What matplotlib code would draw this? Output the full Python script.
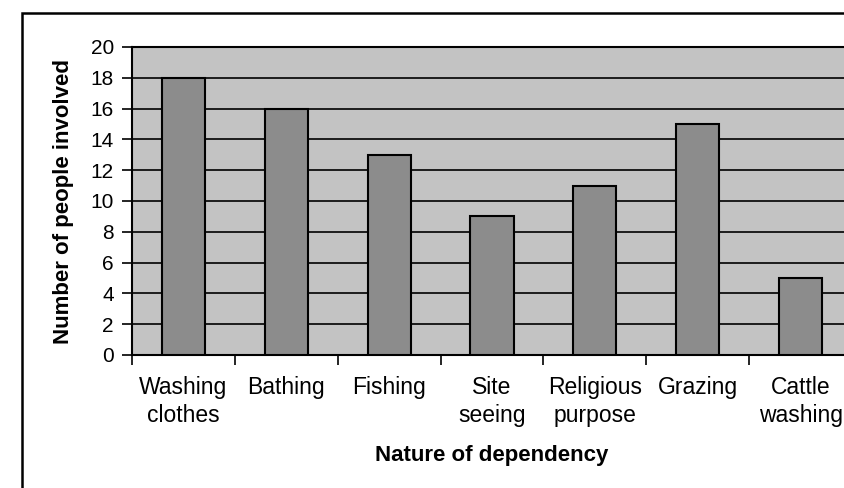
import matplotlib
matplotlib.use("Agg")
import matplotlib.pyplot as plt
from matplotlib.patches import Rectangle
import numpy as np

categories = ["Washing\nclothes", "Bathing", "Fishing", "Site\nseeing",
              "Religious\npurpose", "Grazing", "Cattle\nwashing"]
values = [18, 16, 13, 9, 11, 15, 5]
yticks = [0, 2, 4, 6, 8, 10, 12, 14, 16, 18, 20]

plt.rcParams['font.family'] = ['Liberation Sans', 'DejaVu Sans']

W, H = 844, 488
fig = plt.figure(figsize=(W / 100, H / 100), dpi=100)
fig.patch.set_facecolor('white')

# outer chart border (extends beyond the cropped canvas)
top_frac = 1 - 12.5 / H
fig.patches.append(Rectangle((22 / W, -0.2), 1.2, top_frac + 0.2,
                             transform=fig.transFigure, fill=False,
                             edgecolor='black', linewidth=1.8))

left, right_px, top, bottom = 132, 852, 47, 355
ax = fig.add_axes([left / W, (H - bottom) / H, (right_px - left) / W, (bottom - top) / H])
ax.set_facecolor('#c3c3c3')

x = np.arange(len(categories))
ax.bar(x, values, width=0.42, color='#8c8c8c', edgecolor='black', linewidth=1.5, zorder=3)

ax.set_xlim(-0.5, len(categories) - 0.5)
ax.set_ylim(0, 20)
ax.set_yticks(yticks)
ax.set_yticklabels([str(v) for v in yticks], fontsize=15)
ax.yaxis.grid(True, color='black', linewidth=1.2)
ax.set_axisbelow(True)

ax.set_xticks(x)
ax.set_xticklabels(categories, fontsize=16.5, linespacing=1.3, va='top')
ax.set_xticks(np.arange(len(categories) + 1) - 0.5, minor=True)
ax.tick_params(axis='x', which='major', length=0, pad=15)
ax.tick_params(axis='x', which='minor', length=7, width=1.2, direction='out')
ax.tick_params(axis='y', length=7, width=1.2, direction='out', pad=6)

for s in ['left', 'bottom', 'top']:
    ax.spines[s].set_linewidth(1.5)
ax.spines['right'].set_visible(False)

ax.set_ylabel("Number of people involved", fontsize=16, fontweight='bold')
ax.yaxis.set_label_coords((74 - left) / (right_px - left), 0.5)
ax.set_xlabel("Nature of dependency", fontsize=16, fontweight='bold')
ax.xaxis.set_label_coords(0.5, (bottom - 445) / (bottom - top))

fig.savefig("out.png", dpi=100)
